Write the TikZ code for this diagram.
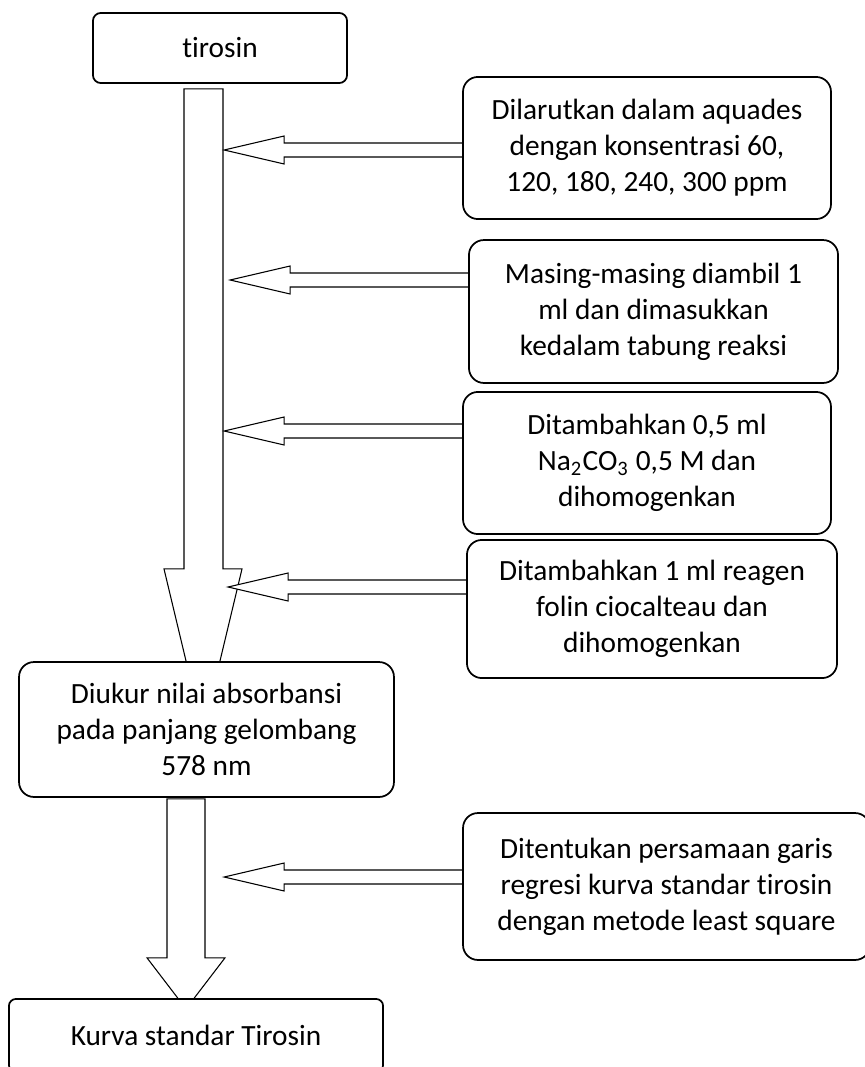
\documentclass[tikz,border=0pt]{standalone}
\usepackage{fontspec}
\setmainfont[Ligatures=NoCommon]{Carlito}
\usetikzlibrary{calc,backgrounds}

\begin{document}
\begin{tikzpicture}[x=0.375pt,y=-0.375pt,line width=0.65pt,
    font=\fontsize{11}{13.5}\selectfont,
    box/.style={draw,fill=white,rounded corners=5.6pt,align=center,inner sep=0pt},
    blk/.style={draw,fill=white,line join=miter}]
    \useasboundingbox (0,0) rectangle (865,1067);
    % main column
    \node [box,rounded corners=3pt,minimum width=95.3pt,minimum height=26.3pt] (tir) at (220,48) {tirosin};
    \node [box,minimum width=140.6pt,minimum height=50.6pt] (diuk) at (206.5,729.5)
        {Diukur nilai absorbansi\\pada panjang gelombang\\578 nm};
    \node [box,rounded corners=2.6pt,minimum width=140.3pt,minimum height=27.4pt] (kurva) at (196,1035.5)
        {Kurva standar Tirosin};
    % steps on the right
    \node [box,minimum width=138pt,minimum height=53.3pt] (b1) at (647,148)
        {Dilarutkan dalam aquades\\dengan konsentrasi 60,\\120, 180, 240, 300 ppm};
    \node [box,minimum width=138.4pt,minimum height=53.6pt] (b2) at (653.5,311.5)
        {Masing-masing diambil 1\\ml dan dimasukkan\\kedalam tabung reaksi};
    \node [box,minimum width=138pt,minimum height=53.3pt] (b3) at (647,463)
        {Ditambahkan 0,5 ml\\Na\textsubscript{2}CO\textsubscript{3} 0,5 M dan\\dihomogenkan};
    \node [box,minimum width=138.8pt,minimum height=51.8pt] (b4) at (652,609)
        {Ditambahkan 1 ml reagen\\folin ciocalteau dan\\dihomogenkan};
    \node [box,minimum width=152.6pt,minimum height=55.1pt] (b5) at (666.5,886.5)
        {Ditentukan persamaan garis\\regresi kurva standar tirosin\\dengan metode least square};

    \begin{pgfonlayer}{background}
    % big down arrows
    \draw [blk] ($(tir.south)+(-36,5)$) -- ++(0,480) -- ++(-20,0) -- ++(39,163)
        -- ++(39,-163) -- ++(-19,0) -- ++(0,-480) -- cycle;
    \draw [blk] ($(diuk.south)+(-39.5,1)$) -- ++(0,159) -- ++(-20,0) -- ++(39,51)
        -- ++(39,-51) -- ++(-20,0) -- ++(0,-159) -- cycle;
    % side arrows into the column
    \foreach \bx/\dy in {b1/2,b2/-31.5,b3/-32,b4/-22,b5/-9.5}
        \draw [blk] ($(\bx.west)+(0,\dy-7)$) -- ++(-178,0) -- ++(0,-7) -- ++(-60,14)
            -- ++(60,14) -- ++(0,-7) -- ++(178,0);
    \end{pgfonlayer}
\end{tikzpicture}
\end{document}
